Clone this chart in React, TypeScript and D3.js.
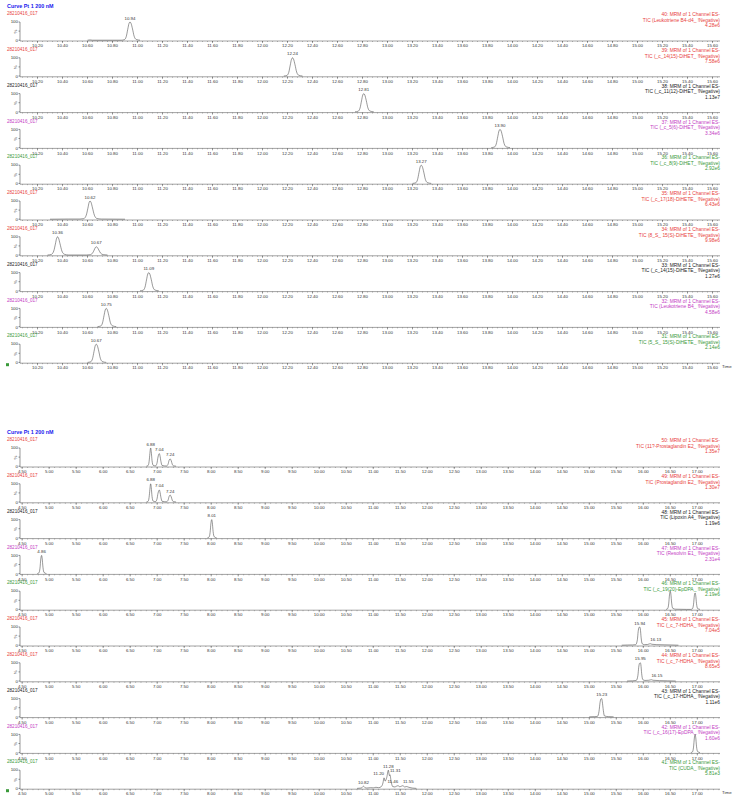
import React from "react";
import * as d3 from "d3";

type Pt = [number, number];
type Peak = { t: number; v: number; label: string; anchor?: string };

const sampleName = "28210416_017";
const curveTitle = "Curve Pt 1 200 nM";

// ---- top chromatogram block (DiHET / DiHETE window) ----
const topTicks = [10.2, 10.4, 10.6, 10.8, 11.0, 11.2, 11.4, 11.6, 11.8, 12.0, 12.2, 12.4, 12.6, 12.8, 13.0, 13.2, 13.4, 13.6, 13.8, 14.0, 14.2, 14.4, 14.6, 14.8, 15.0, 15.2, 15.4, 15.6];

const topChannels = ["40: MRM of 1 Channel ES-", "39: MRM of 1 Channel ES-", "38: MRM of 1 Channel ES-", "37: MRM of 1 Channel ES-", "36: MRM of 1 Channel ES-", "35: MRM of 1 Channel ES-", "34: MRM of 1 Channel ES-", "33: MRM of 1 Channel ES-", "32: MRM of 1 Channel ES-", "31: MRM of 1 Channel ES-"];
const topCompounds = ["TIC (Leukotriene B4-d4_ !Negative)", "TIC (_c_14(15)-DiHET_ !Negative)", "TIC (_c_11(12)-DiHET_ !Negative)", "TIC (_c_5(6)-DiHET_ !Negative)", "TIC (_c_8(9)-DiHET_ !Negative)", "TIC (_c_17(18)-DiHETE_ !Negative)", "TIC (8_S_ 15(S)-DiHETE_ !Negative)", "TIC (_c_14(15)-DiHETE_ !Negative)", "TIC (Leukotriene B4_ !Negative)", "TIC (5_S_ 15(S)-DiHETE_ !Negative)"];
const topMaxima = ["4.28e6", "7.58e6", "1.13e7", "3.34e6", "2.92e6", "6.43e6", "9.98e6", "1.27e6", "4.58e6", "2.14e6"];

const topTrace1: Pt[] = [[10.6, 0], [10.62, 1.5], [10.64, 0], [10.87, 0], [10.895, 3], [10.91, 20], [10.922, 60], [10.932, 92], [10.94, 100], [10.948, 93], [10.96, 62], [10.973, 22], [10.99, 4], [11.02, 0]];
const topTrace2: Pt[] = [[12.17, 0], [12.195, 3], [12.21, 20], [12.222, 60], [12.232, 92], [12.24, 100], [12.248, 93], [12.26, 62], [12.273, 22], [12.29, 4], [12.32, 0]];
const topTrace3: Pt[] = [[12.74, 0], [12.765, 3], [12.78, 20], [12.792, 60], [12.802, 92], [12.81, 100], [12.818, 93], [12.83, 62], [12.843, 22], [12.86, 4], [12.89, 0]];
const topTrace4: Pt[] = [[13.83, 0], [13.855, 3], [13.87, 20], [13.882, 60], [13.892, 92], [13.9, 100], [13.908, 93], [13.92, 62], [13.933, 22], [13.95, 4], [13.98, 0]];
const topTrace5: Pt[] = [[13.2, 0], [13.225, 3], [13.24, 20], [13.252, 60], [13.262, 92], [13.27, 100], [13.278, 93], [13.29, 62], [13.303, 22], [13.32, 4], [13.35, 0]];
const topTrace6: Pt[] = [[10.3, 0], [10.45, 1], [10.54, 1], [10.57, 3], [10.59, 22], [10.603, 60], [10.613, 92], [10.62, 100], [10.628, 93], [10.64, 62], [10.655, 22], [10.675, 4], [10.71, 1], [10.9, 0]];
const topTrace7: Pt[] = [[10.28, 0], [10.31, 3], [10.33, 22], [10.343, 60], [10.353, 92], [10.36, 100], [10.368, 93], [10.38, 62], [10.395, 22], [10.415, 4], [10.45, 0], [10.59, 0], [10.62, 1.5], [10.64, 10], [10.653, 27], [10.663, 41], [10.67, 45], [10.678, 42], [10.69, 28], [10.705, 10], [10.725, 2], [10.76, 0]];
const topTrace8: Pt[] = [[11.02, 0], [11.045, 3], [11.06, 20], [11.072, 60], [11.082, 92], [11.09, 100], [11.098, 93], [11.11, 62], [11.123, 22], [11.14, 4], [11.17, 0]];
const topTrace9: Pt[] = [[10.68, 0], [10.705, 3], [10.72, 20], [10.732, 60], [10.742, 92], [10.75, 100], [10.758, 93], [10.77, 62], [10.783, 22], [10.8, 4], [10.83, 0]];
const topTrace10: Pt[] = [[10.6, 0], [10.625, 3], [10.64, 20], [10.652, 60], [10.662, 92], [10.67, 100], [10.678, 93], [10.69, 62], [10.703, 22], [10.72, 4], [10.75, 0]];

const topPeaks1: Peak[] = [{ t: 10.94, v: 100, label: "10.94" }];
const topPeaks2: Peak[] = [{ t: 12.24, v: 100, label: "12.24" }];
const topPeaks3: Peak[] = [{ t: 12.81, v: 100, label: "12.81" }];
const topPeaks4: Peak[] = [{ t: 13.9, v: 100, label: "13.90" }];
const topPeaks5: Peak[] = [{ t: 13.27, v: 100, label: "13.27" }];
const topPeaks6: Peak[] = [{ t: 10.62, v: 100, label: "10.62" }];
const topPeaks7: Peak[] = [{ t: 10.36, v: 100, label: "10.36" }, { t: 10.67, v: 45, label: "10.67" }];
const topPeaks8: Peak[] = [{ t: 11.09, v: 100, label: "11.09" }];
const topPeaks9: Peak[] = [{ t: 10.75, v: 100, label: "10.75" }];
const topPeaks10: Peak[] = [{ t: 10.67, v: 100, label: "10.67" }];

// ---- bottom chromatogram block (prostaglandins / HDHA window) ----
const bottomTicks = [4.5, 5.0, 5.5, 6.0, 6.5, 7.0, 7.5, 8.0, 8.5, 9.0, 9.5, 10.0, 10.5, 11.0, 11.5, 12.0, 12.5, 13.0, 13.5, 14.0, 14.5, 15.0, 15.5, 16.0, 16.5, 17.0];

const bottomChannels = ["50: MRM of 1 Channel ES-", "49: MRM of 1 Channel ES-", "48: MRM of 1 Channel ES-", "47: MRM of 1 Channel ES-", "46: MRM of 1 Channel ES-", "45: MRM of 1 Channel ES-", "44: MRM of 1 Channel ES-", "43: MRM of 1 Channel ES-", "42: MRM of 1 Channel ES-", "41: MRM of 1 Channel ES-"];
const bottomCompounds = ["TIC (11?-Prostaglandin E2_ !Negative)", "TIC (Prostaglandin E2_ !Negative)", "TIC (Lipoxin A4_ !Negative)", "TIC (Resolvin E1_ !Negative)", "TIC (_c_19(20)-EpDPA_ !Negative)", "TIC (_c_7-HDHA_ !Negative)", "TIC (_c_7-HDHA_ !Negative)", "TIC (_c_17-HDHA_ !Negative)", "TIC (_c_16(17)-EpDPA_ !Negative)", "TIC (CUDA_ !Negative)"];
const bottomMaxima = ["1.35e7", "1.30e7", "1.19e6", "2.31e4", "2.19e6", "7.04e5", "8.65e5", "1.11e6", "1.60e6", "5.81e3"];

const bottomTrace1: Pt[] = [[6.8, 0], [6.83, 3], [6.85, 25], [6.865, 70], [6.875, 97], [6.88, 100], [6.89, 80], [6.905, 30], [6.925, 5], [6.97, 2], [6.995, 15], [7.015, 50], [7.03, 66], [7.04, 69], [7.05, 60], [7.07, 25], [7.09, 4], [7.17, 1], [7.2, 10], [7.22, 32], [7.24, 40], [7.26, 30], [7.28, 10], [7.3, 2], [7.35, 0]];
const bottomTrace2: Pt[] = [[6.8, 0], [6.83, 3], [6.85, 25], [6.865, 70], [6.875, 97], [6.88, 100], [6.89, 80], [6.905, 30], [6.925, 5], [6.97, 2], [6.995, 15], [7.015, 48], [7.03, 63], [7.04, 66], [7.05, 57], [7.07, 24], [7.09, 4], [7.17, 1], [7.2, 9], [7.22, 30], [7.24, 38], [7.26, 28], [7.28, 9], [7.3, 2], [7.35, 0]];
const bottomTrace3: Pt[] = [[7.93, 0], [7.96, 4], [7.98, 30], [7.995, 80], [8.005, 98], [8.01, 100], [8.02, 85], [8.035, 35], [8.055, 6], [8.1, 0]];
const bottomTrace4: Pt[] = [[4.78, 0], [4.81, 4], [4.83, 30], [4.845, 80], [4.855, 98], [4.86, 100], [4.87, 85], [4.885, 35], [4.905, 6], [4.95, 0]];
const bottomTrace5: Pt[] = [[16.42, 0], [16.45, 4], [16.47, 30], [16.485, 80], [16.495, 98], [16.5, 100], [16.51, 85], [16.525, 35], [16.545, 6], [16.6, 1], [16.8, 0], [16.88, 0], [16.91, 4], [16.93, 28], [16.945, 75], [16.955, 89], [16.96, 90], [16.97, 78], [16.985, 32], [17.005, 5], [17.05, 0]];
const bottomTrace6: Pt[] = [[15.6, 0], [15.7, 1], [15.8, 1.5], [15.86, 3], [15.89, 30], [15.905, 75], [15.92, 97], [15.935, 100], [15.945, 90], [15.96, 40], [15.98, 8], [16.02, 3], [16.08, 4], [16.11, 7], [16.13, 8], [16.16, 5], [16.25, 3], [16.4, 2], [16.55, 1], [16.65, 0]];
const bottomTrace7: Pt[] = [[15.7, 0], [15.8, 1], [15.87, 3], [15.9, 30], [15.915, 75], [15.93, 97], [15.945, 100], [15.955, 90], [15.97, 40], [15.99, 8], [16.03, 3], [16.1, 4], [16.13, 6], [16.15, 7], [16.18, 4], [16.3, 2], [16.45, 1], [16.6, 0]];
const bottomTrace8: Pt[] = [[15.0, 0], [15.1, 1], [15.15, 2], [15.18, 30], [15.2, 80], [15.215, 98], [15.23, 100], [15.24, 85], [15.26, 35], [15.28, 5], [15.35, 1], [15.45, 0]];
const bottomTrace9: Pt[] = [[16.88, 0], [16.91, 4], [16.93, 30], [16.945, 80], [16.955, 98], [16.96, 100], [16.97, 85], [16.985, 35], [17.005, 6], [17.05, 0]];
const bottomTrace10: Pt[] = [[10.7, 0], [10.78, 2], [10.8, 8], [10.82, 12], [10.84, 6], [10.88, 2], [10.95, 4], [11.0, 3], [11.05, 6], [11.1, 4], [11.15, 10], [11.18, 30], [11.2, 58], [11.22, 40], [11.25, 60], [11.28, 100], [11.3, 70], [11.31, 75], [11.33, 40], [11.36, 10], [11.4, 8], [11.43, 12], [11.46, 15], [11.49, 9], [11.52, 12], [11.55, 15], [11.58, 8], [11.62, 10], [11.66, 6], [11.72, 2], [11.8, 0]];

const bottomPeaks1: Peak[] = [{ t: 6.88, v: 100, label: "6.88" }, { t: 7.04, v: 69, label: "7.04" }, { t: 7.24, v: 40, label: "7.24" }];
const bottomPeaks2: Peak[] = [{ t: 6.88, v: 100, label: "6.88" }, { t: 7.04, v: 66, label: "7.04" }, { t: 7.24, v: 38, label: "7.24" }];
const bottomPeaks3: Peak[] = [{ t: 8.01, v: 100, label: "8.01" }];
const bottomPeaks4: Peak[] = [{ t: 4.86, v: 100, label: "4.86" }];
const bottomPeaks5: Peak[] = [];
const bottomPeaks6: Peak[] = [{ t: 15.935, v: 100, label: "15.94" }, { t: 16.13, v: 8, label: "16.13", anchor: "start" }];
const bottomPeaks7: Peak[] = [{ t: 15.945, v: 100, label: "15.95" }, { t: 16.15, v: 7, label: "16.15", anchor: "start" }];
const bottomPeaks8: Peak[] = [{ t: 15.23, v: 100, label: "15.23" }];
const bottomPeaks9: Peak[] = [];
const bottomPeaks10: Peak[] = [{ t: 10.82, v: 12, label: "10.82" }, { t: 11.2, v: 58, label: "11.20", anchor: "end" }, { t: 11.28, v: 100, label: "11.28" }, { t: 11.31, v: 75, label: "11.31", anchor: "start" }, { t: 11.46, v: 15, label: "11.46", anchor: "end" }, { t: 11.55, v: 15, label: "11.55", anchor: "start" }];

const topTraces = [topTrace1, topTrace2, topTrace3, topTrace4, topTrace5, topTrace6, topTrace7, topTrace8, topTrace9, topTrace10];
const topPeaks = [topPeaks1, topPeaks2, topPeaks3, topPeaks4, topPeaks5, topPeaks6, topPeaks7, topPeaks8, topPeaks9, topPeaks10];
const bottomTraces = [bottomTrace1, bottomTrace2, bottomTrace3, bottomTrace4, bottomTrace5, bottomTrace6, bottomTrace7, bottomTrace8, bottomTrace9, bottomTrace10];
const bottomPeaks = [bottomPeaks1, bottomPeaks2, bottomPeaks3, bottomPeaks4, bottomPeaks5, bottomPeaks6, bottomPeaks7, bottomPeaks8, bottomPeaks9, bottomPeaks10];

const RED = "#e8413c";
const MAG = "#c43cc4";
const GRN = "#3a9a3a";
const BLK = "#222222";
const rowColors = [RED, RED, BLK, MAG, GRN, RED, RED, BLK, MAG, GRN];

const FONT = "'Liberation Sans', Arial, sans-serif";
const ROW = 35.8;
const X0 = 20;
const X1 = 720;

type BlockProps = {
  top: number;
  domain: [number, number];
  ticks: number[];
  minorStep: number;
  channels: string[];
  compounds: string[];
  maxima: string[];
  traces: Pt[][];
  peaks: Peak[][];
};

function Block({ top, domain, ticks, minorStep, channels, compounds, maxima, traces, peaks }: BlockProps) {
  const x = d3.scaleLinear().domain(domain).range([X0, X1]);
  const minor = d3.range(Math.ceil(domain[0] / minorStep) * minorStep, domain[1], minorStep);

  return (
    <g>
      <text x={7} y={top} fontSize={5.4} fontWeight="bold" fill="#1a1aee" dominantBaseline="middle">
        {curveTitle}
      </text>
      {traces.map((tr, i) => {
        const base = top + 7 + i * ROW;
        const axisY = base + 27;
        const plotTop = base + 8;
        const y = d3.scaleLinear().domain([0, 100]).range([axisY - 0.8, plotTop]);
        const line = d3
          .line<Pt>()
          .x((d) => x(d[0]))
          .y((d) => y(d[1]))
          .curve(d3.curveMonotoneX);
        return (
          <g key={i}>
            <text x={7} y={base} fontSize={4.6} fill={rowColors[i]} dominantBaseline="middle">
              {sampleName}
            </text>
            {[channels[i], compounds[i], maxima[i]].map((s, k) => (
              <text key={k} x={X1} y={base + 1 + k * 5.5} fontSize={4.9} fill={rowColors[i]} textAnchor="end" dominantBaseline="middle">
                {s}
              </text>
            ))}
            {/* y axis */}
            <line x1={X0} x2={X0} y1={plotTop} y2={axisY} stroke="#333" strokeWidth={0.5} />
            {[0, 50, 100].map((v) => (
              <line key={v} x1={X0 - 1.5} x2={X0} y1={y(v)} y2={y(v)} stroke="#333" strokeWidth={0.5} />
            ))}
            <text x={X0 - 2} y={plotTop} fontSize={4.4} fill="#333" textAnchor="end" dominantBaseline="middle">100</text>
            <text x={X0 - 2} y={axisY} fontSize={4.4} fill="#333" textAnchor="end" dominantBaseline="middle">0</text>
            <text x={0} y={0} fontSize={4.4} fill="#333" textAnchor="middle" dominantBaseline="middle" transform={`translate(${X0 - 4},${(plotTop + axisY) / 2}) rotate(-90)`}>%</text>
            {/* x axis */}
            <line x1={X0} x2={X1} y1={axisY} y2={axisY} stroke="#444" strokeWidth={0.5} />
            {minor.map((t, k) => (
              <line key={k} x1={x(t)} x2={x(t)} y1={axisY} y2={axisY + 1} stroke="#555" strokeWidth={0.4} />
            ))}
            {ticks.map((t) => (
              <g key={t}>
                <line x1={x(t)} x2={x(t)} y1={axisY} y2={axisY + 2} stroke="#444" strokeWidth={0.5} />
                <text x={x(t)} y={axisY + 5} fontSize={4.4} fill="#333" textAnchor="middle" dominantBaseline="middle">
                  {t.toFixed(2)}
                </text>
              </g>
            ))}
            {i === traces.length - 1 && (
              <>
                <text x={X1 + 2} y={axisY + 4} fontSize={4.4} fill="#333" dominantBaseline="middle">Time</text>
                <rect x={6} y={axisY} width={3} height={3} fill={GRN} />
              </>
            )}
            <path d={line(tr) || ""} fill="none" stroke="#333" strokeWidth={0.5} />
            {peaks[i].map((p, k) => (
              <text key={k} x={x(p.t)} y={y(p.v) - 2.5} fontSize={4.4} fill="#333" textAnchor={p.anchor || "middle"}>
                {p.label}
              </text>
            ))}
          </g>
        );
      })}
    </g>
  );
}

export default function App() {
  return (
    <div style={{ position: "absolute", left: 0, top: 0, background: "#fff" }}>
      <svg width={739} height={804} style={{ display: "block", fontFamily: FONT }}>
        <rect width={739} height={804} fill="#fff" />
        <Block top={7} domain={[10.06, 15.66]} ticks={topTicks} minorStep={0.04} channels={topChannels} compounds={topCompounds} maxima={topMaxima} traces={topTraces} peaks={topPeaks} />
        <Block top={433} domain={[4.46, 17.42]} ticks={bottomTicks} minorStep={0.1} channels={bottomChannels} compounds={bottomCompounds} maxima={bottomMaxima} traces={bottomTraces} peaks={bottomPeaks} />
      </svg>
    </div>
  );
}
